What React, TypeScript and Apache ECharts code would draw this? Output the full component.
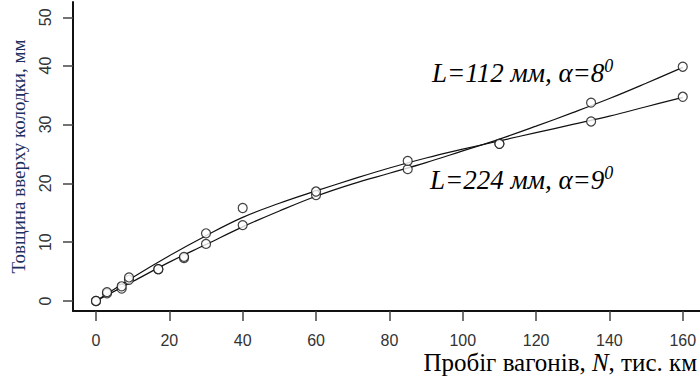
import React, { useEffect, useRef } from "react";
import * as echarts from "echarts";

// Measured points (N, thickness)
const pointsL112: [number, number][] = [
  [0, 0], [3, 1.3], [7, 2.1], [9, 3.6], [17, 5.4], [24, 7.3], [30, 9.7],
  [40, 12.9], [60, 18.0], [85, 22.4], [110, 26.7], [135, 33.7], [160, 39.8],
];
const pointsL224: [number, number][] = [
  [0, 0], [3, 1.5], [7, 2.5], [9, 4.0], [17, 5.4], [24, 7.5], [30, 11.5],
  [40, 15.8], [60, 18.6], [85, 23.8], [110, 26.7], [135, 30.5], [160, 34.7],
];
// Fitted curves
const curveL112: [number, number][] = [
  [0, 0], [10, 3.3], [20, 6.6], [30, 9.6], [40, 12.6], [50, 15.3], [60, 17.8],
  [70, 19.9], [80, 21.7], [90, 23.5], [100, 25.5], [110, 27.5], [120, 29.7],
  [130, 32.0], [140, 34.4], [150, 37.0], [160, 39.7],
];
const curveL224: [number, number][] = [
  [0, 0], [10, 4.0], [20, 7.7], [30, 11.1], [40, 14.2], [50, 16.6], [60, 18.7],
  [70, 20.7], [80, 22.6], [90, 24.3], [100, 25.8], [110, 27.2], [120, 28.6],
  [130, 30.0], [140, 31.4], [150, 33.0], [160, 34.6],
];
const xTicks = [0, 20, 40, 60, 80, 100, 120, 140, 160];
const yTickLabels = [0, 10, 20, 30, 40, 50];
// the reference draws its top tick slightly below the linear position of 50
const yTickPositions = [0, 10, 20, 30, 40, 48.2];

const labelL112 = "L=112 мм, α=8";
const labelL224 = "L=224 мм, α=9";
const xTitle = ["Пробіг вагонів, ", "N", ", тис. км"];
const yTitle = "Товщина вверху колодки, мм";

export default function App() {
  const ref = useRef<HTMLDivElement>(null);
  useEffect(() => {
    document.body.style.margin = "0";
    const chart = echarts.init(ref.current!, null, { renderer: "svg" });
    const serif = "'Liberation Serif', 'Times New Roman', serif";
    const sans = "'Liberation Sans', Arial, sans-serif";
    const lineStyle = { color: "#111", width: 1.2 };
    const scatterStyle = { color: "#fff", borderColor: "#111", borderWidth: 1.2 };
    const annRich = {
      m: { fontFamily: serif, fontStyle: "italic", fontSize: 27, color: "#000", lineHeight: 32 },
      s: { fontFamily: serif, fontStyle: "italic", fontSize: 18, color: "#000", verticalAlign: "top", lineHeight: 32 },
    };
    chart.setOption({
      animation: false,
      grid: { left: 73, right: 0, top: 2, bottom: 73, containLabel: false },
      xAxis: {
        type: "value",
        min: -6.27,
        max: 164.7,
        splitLine: { show: false },
        axisLine: { show: true, onZero: false, lineStyle: { color: "#111", width: 2 } },
        axisTick: { show: true, customValues: xTicks, length: 10, lineStyle: { color: "#444", width: 1.5 } },
        axisLabel: { customValues: xTicks, fontFamily: sans, fontSize: 16, color: "#333", margin: 21 },
      },
      yAxis: {
        type: "value",
        min: -1.7,
        max: 50.8,
        splitLine: { show: false },
        axisLine: { show: true, onZero: false, lineStyle: { color: "#111", width: 2 } },
        axisTick: { show: true, customValues: yTickPositions, length: 10, lineStyle: { color: "#444", width: 1.5 } },
        axisLabel: {
          customValues: yTickPositions,
          rotate: 90,
          fontFamily: sans,
          fontSize: 16,
          color: "#333",
          margin: 20,
          formatter: (v: number) => {
            const i = yTickPositions.indexOf(v);
            return i >= 0 ? String(yTickLabels[i]) : "";
          },
        },
        name: yTitle,
        nameLocation: "middle",
        nameGap: 45,
        nameTextStyle: { fontFamily: serif, fontSize: 19, color: "#1b2f60" },
      },
      series: [
        { type: "line", data: curveL112, smooth: 0.4, showSymbol: false, lineStyle, z: 2 },
        { type: "line", data: curveL224, smooth: 0.4, showSymbol: false, lineStyle, z: 2 },
        { type: "scatter", data: pointsL112, symbol: "circle", symbolSize: 9, itemStyle: scatterStyle, z: 3 },
        { type: "scatter", data: pointsL224, symbol: "circle", symbolSize: 9, itemStyle: scatterStyle, z: 3 },
      ],
      graphic: [
        {
          type: "text",
          left: 432,
          top: 57,
          style: { text: `{m|${labelL112}}{s|0}`, rich: annRich },
        },
        {
          type: "text",
          left: 430,
          top: 164,
          style: { text: `{m|${labelL224}}{s|0}`, rich: annRich },
        },
        {
          type: "text",
          right: 3,
          top: 350,
          style: {
            text: `{a|${xTitle[0]}}{b|${xTitle[1]}}{a|${xTitle[2]}}`,
            rich: {
              a: { fontFamily: serif, fontSize: 25, color: "#111" },
              b: { fontFamily: serif, fontSize: 25, fontStyle: "italic", color: "#111" },
            },
          },
        },
      ],
    });
    return () => chart.dispose();
  }, []);
  return <div ref={ref} style={{ width: 700, height: 384 }} />;
}
